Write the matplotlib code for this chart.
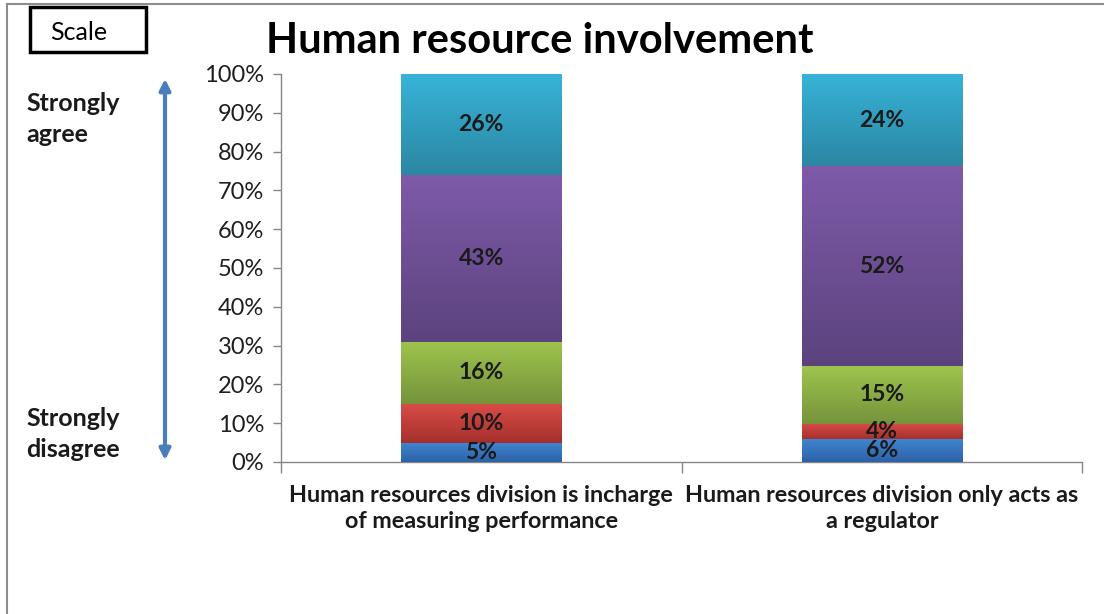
import matplotlib
matplotlib.use("Agg")
import matplotlib.pyplot as plt
import numpy as np
from matplotlib.colors import LinearSegmentedColormap
from matplotlib.patches import Rectangle, FancyArrowPatch

plt.rcParams['font.family'] = ['Lato', 'DejaVu Sans']

# ---- data ----
categories = ["Human resources division is incharge\nof measuring performance",
              "Human resources division only acts as\na regulator"]
levels = ["Strongly disagree", "Disagree", "Neutral", "Agree", "Strongly agree"]
values_cat1 = [5, 10, 16, 43, 26]
values_cat2 = [6, 4, 15, 52, 24]
tick_labels = ["0%", "10%", "20%", "30%", "40%", "50%", "60%", "70%", "80%", "90%", "100%"]
title = "Human resource involvement"

# gradient colours (top, bottom) per level
grad_colors = [("#3f86d2", "#2d62a6"),
               ("#d84c47", "#a52f2c"),
               ("#9ec44d", "#76933b"),
               ("#7e5aa9", "#5c437e"),
               ("#37b3d8", "#2b87a3")]

data = np.array([values_cat1, values_cat2], dtype=float)
pct = data / data.sum(axis=1, keepdims=True) * 100.0

fig = plt.figure(figsize=(11.04, 6.14), dpi=100)
ax = fig.add_axes([281/1104, 1-462/614, (1082-281)/1104, (462-74)/614])

x = np.arange(len(categories))
bottom = np.zeros(len(categories))
for i, lvl in enumerate(levels):
    top_c, bot_c = grad_colors[i]
    bars = ax.bar(x, pct[:, i], bottom=bottom, width=0.4, color=top_c,
                  edgecolor='none', zorder=2)
    cmap = LinearSegmentedColormap.from_list("g%d" % i, [bot_c, top_c])
    for b in bars:
        x0, y0 = b.get_x(), b.get_y()
        w, h = b.get_width(), b.get_height()
        grad = np.linspace(0, 1, 64).reshape(-1, 1)
        im = ax.imshow(grad, cmap=cmap, aspect='auto', origin='lower',
                       extent=[x0, x0 + w, y0, y0 + h], zorder=3)
        im.set_clip_path(b)
    for j in range(len(categories)):
        ax.text(x[j], bottom[j] + pct[j, i] / 2, "%d%%" % int(data[j, i]),
                ha='center', va='center', fontsize=16.5, fontweight='bold',
                color='#1a1a1a', zorder=5)
    bottom += pct[:, i]

ax.set_xlim(-0.5, len(categories) - 0.5)
ax.set_ylim(0, 100)
ax.set_yticks(np.arange(0, 101, 10))
ax.set_yticklabels(tick_labels, fontsize=17, color='#1f1f1f')
ax.set_xticks(np.arange(-0.5, len(categories), 1.0))
ax.set_xticklabels([])
ax.tick_params(axis='y', length=6, width=1, color='#868686', pad=6, direction='out')
ax.tick_params(axis='x', length=8, width=1, color='#868686', direction='out')
for s in ['top', 'right']:
    ax.spines[s].set_visible(False)
for s in ['left', 'bottom']:
    ax.spines[s].set_color('#868686')
    ax.spines[s].set_linewidth(1)

for j, c in enumerate(categories):
    ax.annotate(c, xy=(x[j], 0), xycoords=('data', 'axes fraction'),
                xytext=(0, -23), textcoords='offset pixels',
                ha='center', va='top', fontsize=16.8, fontweight='bold',
                color='#1a1a1a', linespacing=1.3)

fig.text(540/1104, 1-41/614, title, ha='center', va='center',
         fontsize=30, fontweight='bold', color='black')

# Scale box
fig.patches.append(Rectangle((30/1104, 1-52/614), 116/1104, 45/614,
                             transform=fig.transFigure, fill=False,
                             edgecolor='black', linewidth=2.5))
fig.text(79/1104, 1-33/614, "Scale", ha='center', va='center',
         fontsize=18, color='black')

fig.text(26/1104, 1-119/614, "Strongly\nagree", ha='left', va='center',
         fontsize=18, fontweight='bold', color='#1a1a1a', linespacing=1.38)
fig.text(26/1104, 1-434/614, "Strongly\ndisagree", ha='left', va='center',
         fontsize=18, fontweight='bold', color='#1a1a1a', linespacing=1.38)

arrow = FancyArrowPatch((165/1104, 1-463/614), (165/1104, 1-76/614),
                        transform=fig.transFigure, arrowstyle='<|-|>',
                        mutation_scale=16, color='#4a7ebb', linewidth=3)
fig.patches.append(arrow)

# outer frame (left and top)
fig.add_artist(plt.Line2D([7/1104, 7/1104], [0, 1-4/614], transform=fig.transFigure,
                          color='#8c8c8c', linewidth=1.5))
fig.add_artist(plt.Line2D([7/1104, 1], [1-4/614, 1-4/614], transform=fig.transFigure,
                          color='#8c8c8c', linewidth=1.5))

fig.savefig("out.png", dpi=100)
